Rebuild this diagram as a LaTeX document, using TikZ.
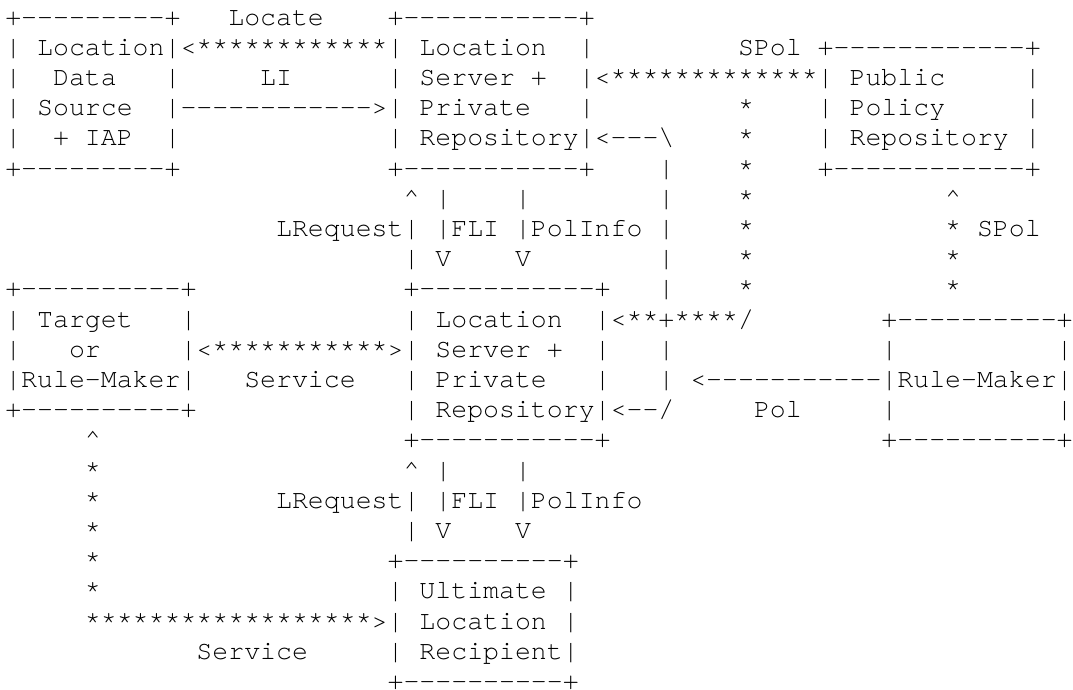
\documentclass[tikz,border=0pt]{standalone}
\usepackage{fontspec}
\setmonofont{TeX Gyre Cursor}
\usepackage{tikz}
\tikzset{
  asc/.style={anchor=base west, inner sep=0pt, outer sep=0pt,
    font=\ttfamily\fontsize{26.55pt}{30.2pt}\selectfont},
}
% box of characters: name, left col, top row, right col, bottom row
\newcommand{\asciibox}[5]{%
  \pgfmathtruncatemacro{\ca}{#2+1}%
  \pgfmathtruncatemacro{\cb}{#4-1}%
  \pgfmathtruncatemacro{\ra}{#3+1}%
  \pgfmathtruncatemacro{\rb}{#5-1}%
  \node[asc] (#1-nw) at (#2,#3) {+};
  \node[asc] (#1-ne) at (#4,#3) {+};
  \node[asc] (#1-sw) at (#2,#5) {+};
  \node[asc] (#1-se) at (#4,#5) {+};
  \foreach \c in {\ca,...,\cb}{
    \node[asc] (#1-n\c) at (\c,#3) {-};
    \node[asc] (#1-s\c) at (\c,#5) {-};
  }
  \foreach \r in {\ra,...,\rb}{
    \node[asc] (#1-w\r) at (#2,\r) {|};
    \node[asc] (#1-e\r) at (#4,\r) {|};
  }
}

\begin{document}
\begin{tikzpicture}[x=15.93pt, y=-30.2pt]
  \useasboundingbox (0pt,0pt) rectangle (1073pt,-690pt);
  \begin{scope}[shift={(5.3pt,5.1pt)}]
    % boxes
    \asciibox{lds}{0}{1}{10}{6}
    \asciibox{lsa}{24}{1}{36}{6}
    \asciibox{ppr}{51}{2}{64}{6}
    \asciibox{trm}{0}{10}{11}{14}
    \asciibox{lsb}{25}{10}{37}{15}
    \asciibox{rm}{55}{11}{66}{15}
    \asciibox{ulr}{24}{19}{35}{23}

    \node[asc] (lds-t1) at (2,2) {Location};
    \node[asc] (lds-t2) at (3,3) {Data};
    \node[asc] (lds-t3) at (2,4) {Source};
    \node[asc] (lds-t4) at (3,5) {+ IAP};
    \node[asc] (lsa-t1) at (26,2) {Location};
    \node[asc] (lsa-t2) at (26,3) {Server +};
    \node[asc] (lsa-t3) at (26,4) {Private};
    \node[asc] (lsa-t4) at (26,5) {Repository};
    \node[asc] (ppr-t1) at (53,3) {Public};
    \node[asc] (ppr-t2) at (53,4) {Policy};
    \node[asc] (ppr-t3) at (53,5) {Repository};
    \node[asc] (trm-t1) at (2,11) {Target};
    \node[asc] (trm-t2) at (4,12) {or};
    \node[asc] (trm-t3) at (1,13) {Rule-Maker};
    \node[asc] (lsb-t1) at (27,11) {Location};
    \node[asc] (lsb-t2) at (27,12) {Server +};
    \node[asc] (lsb-t3) at (27,13) {Private};
    \node[asc] (lsb-t4) at (27,14) {Repository};
    \node[asc] (rm-t1) at (56,13) {Rule-Maker};
    \node[asc] (ulr-t1) at (26,20) {Ultimate};
    \node[asc] (ulr-t2) at (26,21) {Location};
    \node[asc] (ulr-t3) at (26,22) {Recipient};

    % locate / LI
    \node[asc] (locate) at (11,2) {<************};
    \node[asc] (locate-l) at (14,1) {Locate};
    \node[asc] (li) at (11,4) {------------>};
    \node[asc] (li-l) at (16,3) {LI};

    % SPol from the public repository
    \node[asc] (spol) at (37,3) {<*************};
    \node[asc] (spol-l) at (46,2) {SPol};
    \foreach \r in {4,...,10}
      \node[asc] (spol\r) at (46,\r) {*};
    \node[asc] (spolb) at (38,11) {<**+****/};

    % Pol from the rule-maker
    \node[asc] (pol) at (43,13) {<-----------};
    \node[asc] (pol-l) at (47,14) {Pol};
    \node[asc] (polup) at (37,5) {<---\textbackslash};
    \node[asc] (poldn) at (38,14) {<--/};
    \foreach \r in {6,...,10,12,13}
      \node[asc] (pol\r) at (41,\r) {|};

    % SPol from the rule-maker
    \node[asc] (rspol) at (59,7) {\textasciicircum};
    \foreach \r in {8,9,10}
      \node[asc] (rspol\r) at (59,\r) {*};
    \node[asc] (rspol-l) at (61,8) {SPol};

    % LRequest, FLI, PolInfo
    \foreach \r/\n in {7/a,16/b}{
      \node[asc] (lreq\n) at (25,\r) {\textasciicircum};
      \node[asc] (fli\n) at (27,\r) {|};
      \node[asc] (pinf\n) at (32,\r) {|};
      \node[asc] (lreq\n-l) at (17,\r+1) {LRequest|};
      \node[asc] (fli\n-l) at (27,\r+1) {|FLI};
      \node[asc] (pinf\n-l) at (32,\r+1) {|PolInfo};
      \node[asc] (lreq\n-b) at (25,\r+2) {|};
      \node[asc] (fli\n-b) at (27,\r+2) {V};
      \node[asc] (pinf\n-b) at (32,\r+2) {V};
    }

    % Service
    \node[asc] (srv) at (12,12) {<***********>};
    \node[asc] (srv-l) at (15,13) {Service};
    \node[asc] (srvup) at (5,15) {\textasciicircum};
    \foreach \r in {16,...,20}
      \node[asc] (srv\r) at (5,\r) {*};
    \node[asc] (srvb) at (5,21) {******************>};
    \node[asc] (srvb-l) at (12,22) {Service};
  \end{scope}
\end{tikzpicture}
\end{document}
